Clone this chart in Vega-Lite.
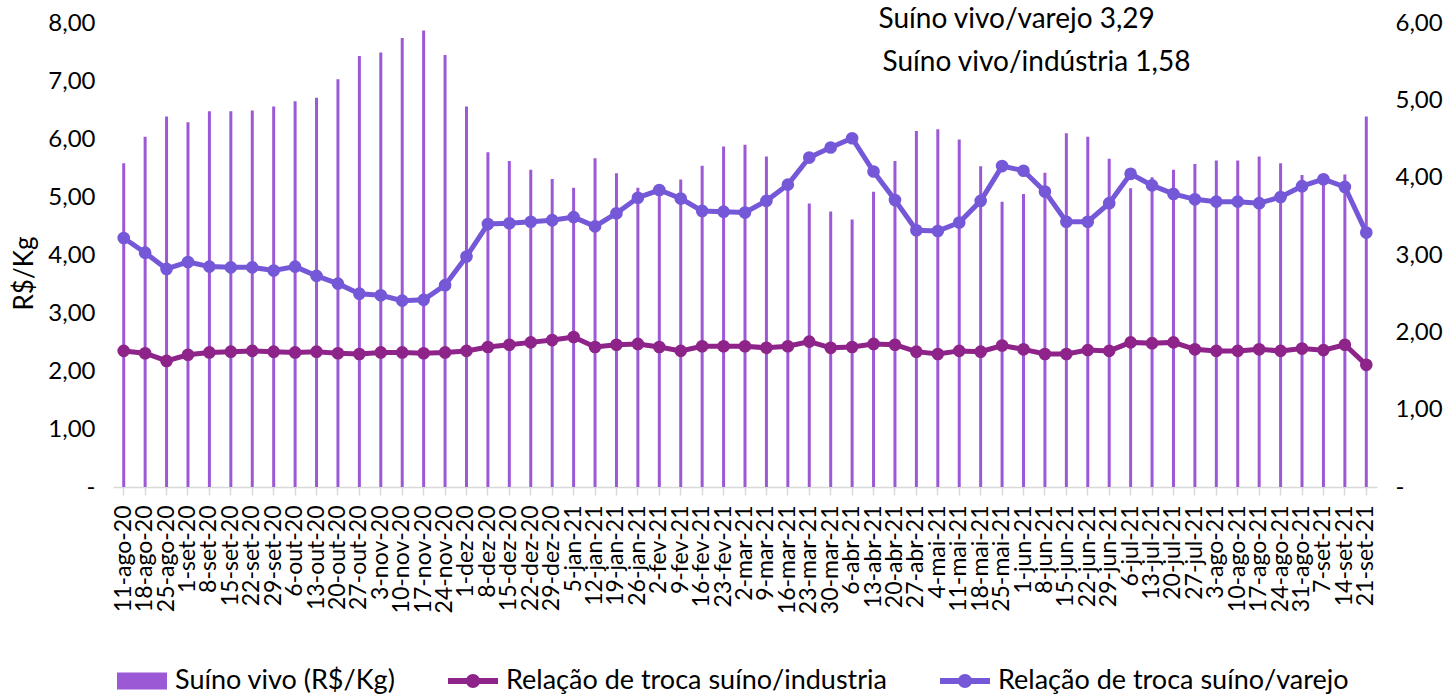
{
  "$schema": "https://vega.github.io/schema/vega-lite/v6.json",
  "width": 1264,
  "height": 464,
  "autosize": {"type": "none"},
  "padding": {"left": 113, "top": 23, "right": 76, "bottom": 210},
  "background": "white",
  "config": {
    "view": {"stroke": null},
    "font": "Lato",
    "axis": {"labelFont": "Lato", "titleFont": "Lato", "labelColor": "#000000", "titleColor": "#000000", "grid": false}
  },
  "data": {"values": [
    {"d": "11-ago-20", "suino": 5.58, "ind": 1.76, "var": 3.22},
    {"d": "18-ago-20", "suino": 6.04, "ind": 1.73, "var": 3.03},
    {"d": "25-ago-20", "suino": 6.39, "ind": 1.63, "var": 2.82},
    {"d": "1-set-20", "suino": 6.29, "ind": 1.71, "var": 2.91},
    {"d": "8-set-20", "suino": 6.48, "ind": 1.74, "var": 2.85},
    {"d": "15-set-20", "suino": 6.48, "ind": 1.75, "var": 2.84},
    {"d": "22-set-20", "suino": 6.49, "ind": 1.76, "var": 2.84},
    {"d": "29-set-20", "suino": 6.56, "ind": 1.75, "var": 2.80},
    {"d": "6-out-20", "suino": 6.65, "ind": 1.74, "var": 2.85},
    {"d": "13-out-20", "suino": 6.71, "ind": 1.75, "var": 2.73},
    {"d": "20-out-20", "suino": 7.03, "ind": 1.73, "var": 2.63},
    {"d": "27-out-20", "suino": 7.43, "ind": 1.72, "var": 2.50},
    {"d": "3-nov-20", "suino": 7.49, "ind": 1.74, "var": 2.48},
    {"d": "10-nov-20", "suino": 7.74, "ind": 1.74, "var": 2.41},
    {"d": "17-nov-20", "suino": 7.87, "ind": 1.73, "var": 2.42},
    {"d": "24-nov-20", "suino": 7.45, "ind": 1.74, "var": 2.61},
    {"d": "1-dez-20", "suino": 6.56, "ind": 1.76, "var": 2.98},
    {"d": "8-dez-20", "suino": 5.77, "ind": 1.81, "var": 3.40},
    {"d": "15-dez-20", "suino": 5.62, "ind": 1.84, "var": 3.41},
    {"d": "22-dez-20", "suino": 5.47, "ind": 1.87, "var": 3.43},
    {"d": "29-dez-20", "suino": 5.31, "ind": 1.90, "var": 3.45},
    {"d": "5-jan-21", "suino": 5.16, "ind": 1.94, "var": 3.49},
    {"d": "12-jan-21", "suino": 5.67, "ind": 1.81, "var": 3.37},
    {"d": "19-jan-21", "suino": 5.41, "ind": 1.84, "var": 3.54},
    {"d": "26-jan-21", "suino": 5.16, "ind": 1.85, "var": 3.74},
    {"d": "2-fev-21", "suino": 5.15, "ind": 1.81, "var": 3.84},
    {"d": "9-fev-21", "suino": 5.30, "ind": 1.76, "var": 3.73},
    {"d": "16-fev-21", "suino": 5.54, "ind": 1.82, "var": 3.57},
    {"d": "23-fev-21", "suino": 5.87, "ind": 1.82, "var": 3.56},
    {"d": "2-mar-21", "suino": 5.90, "ind": 1.82, "var": 3.55},
    {"d": "9-mar-21", "suino": 5.70, "ind": 1.80, "var": 3.70},
    {"d": "16-mar-21", "suino": 5.25, "ind": 1.82, "var": 3.91},
    {"d": "23-mar-21", "suino": 4.89, "ind": 1.88, "var": 4.26},
    {"d": "30-mar-21", "suino": 4.75, "ind": 1.80, "var": 4.39},
    {"d": "6-abr-21", "suino": 4.61, "ind": 1.81, "var": 4.51},
    {"d": "13-abr-21", "suino": 5.09, "ind": 1.85, "var": 4.08},
    {"d": "20-abr-21", "suino": 5.62, "ind": 1.84, "var": 3.71},
    {"d": "27-abr-21", "suino": 6.14, "ind": 1.75, "var": 3.32},
    {"d": "4-mai-21", "suino": 6.17, "ind": 1.72, "var": 3.31},
    {"d": "11-mai-21", "suino": 5.99, "ind": 1.76, "var": 3.42},
    {"d": "18-mai-21", "suino": 5.53, "ind": 1.75, "var": 3.70},
    {"d": "25-mai-21", "suino": 4.92, "ind": 1.83, "var": 4.15},
    {"d": "1-jun-21", "suino": 5.05, "ind": 1.78, "var": 4.09},
    {"d": "8-jun-21", "suino": 5.42, "ind": 1.72, "var": 3.82},
    {"d": "15-jun-21", "suino": 6.10, "ind": 1.72, "var": 3.43},
    {"d": "22-jun-21", "suino": 6.04, "ind": 1.77, "var": 3.43},
    {"d": "29-jun-21", "suino": 5.66, "ind": 1.76, "var": 3.67},
    {"d": "6-jul-21", "suino": 5.15, "ind": 1.87, "var": 4.05},
    {"d": "13-jul-21", "suino": 5.34, "ind": 1.86, "var": 3.90},
    {"d": "20-jul-21", "suino": 5.47, "ind": 1.87, "var": 3.79},
    {"d": "27-jul-21", "suino": 5.57, "ind": 1.78, "var": 3.72},
    {"d": "3-ago-21", "suino": 5.63, "ind": 1.76, "var": 3.69},
    {"d": "10-ago-21", "suino": 5.63, "ind": 1.76, "var": 3.69},
    {"d": "17-ago-21", "suino": 5.70, "ind": 1.78, "var": 3.67},
    {"d": "24-ago-21", "suino": 5.58, "ind": 1.76, "var": 3.75},
    {"d": "31-ago-21", "suino": 5.38, "ind": 1.79, "var": 3.89},
    {"d": "7-set-21", "suino": 5.40, "ind": 1.77, "var": 3.98},
    {"d": "14-set-21", "suino": 5.39, "ind": 1.84, "var": 3.88},
    {"d": "21-set-21", "suino": 6.39, "ind": 1.58, "var": 3.29}
  ]},
  "layer": [
    {
      "layer": [
        {
          "mark": {"type": "bar", "width": 3},
          "encoding": {
            "x": {
              "field": "d", "type": "ordinal", "sort": null,
              "scale": {"paddingInner": 0, "paddingOuter": 0},
              "axis": {
                "title": null, "labelAngle": -90, "labelFontSize": 23, "labelPadding": 10,
                "domainColor": "#d9d9d9", "domainWidth": 1.5, "tickColor": "#d9d9d9", "tickWidth": 1.5, "tickSize": 8,
                "labelOverlap": false
              }
            },
            "y": {
              "field": "suino", "type": "quantitative",
              "scale": {"domain": [0, 8], "nice": false, "zero": true},
              "axis": {
                "title": "R$/Kg", "titleFontSize": 26, "titleFontWeight": "normal", "titleY": 250, "titlePadding": 10,
                "values": [0, 1, 2, 3, 4, 5, 6, 7, 8], "labelFontSize": 24, "labelPadding": 18,
                "domain": false, "ticks": false,
                "labelExpr": "datum.value == 0 ? '-' : replace(format(datum.value, '.2f'), '.', ',')"
              }
            },
            "color": {
              "datum": "Suíno vivo (R$/Kg)",
              "scale": {
                "domain": ["Suíno vivo (R$/Kg)", "Relação de troca suíno/industria", "Relação de troca suíno/varejo"],
                "range": ["#9c59d6", "#8e2389", "#7558d8"]
              },
              "legend": {
                "orient": "none", "legendX": 4, "legendY": 633, "direction": "horizontal", "columns": 3,
                "title": null, "labelFont": "Lato", "labelFontSize": 27, "labelColor": "#000000", "labelLimit": 0,
                "symbolSize": 2500, "columnPadding": 52, "labelOffset": 8, "padding": 0,
                "symbolStrokeWidth": 0, "symbolOpacity": 1,
                "encode": {
                  "symbols": {
                    "update": {
                      "shape": {"signal": "datum.value == 'Suíno vivo (R$/Kg)' ? 'M-1,-0.34H1V0.34H-1Z' : 'M-1,-0.12H1V0.12H-1Z M0.28,0A0.28,0.28 0 1 1 -0.28,0A0.28,0.28 0 1 1 0.28,0Z'"},
                      "fill": {"scale": "color", "field": "value"},
                      "stroke": {"value": "transparent"},
                      "opacity": {"value": 1}
                    }
                  }
                }
              }
            }
          }
        },
        {
          "transform": [{"filter": "datum.d == '13-abr-21'"}],
          "mark": {"type": "text", "align": "left", "baseline": "middle", "dx": 5, "fontSize": 28, "font": "Lato", "color": "#000000"},
          "encoding": {
            "x": {"field": "d", "type": "ordinal", "sort": null},
            "y": {"datum": 8.05, "type": "quantitative"},
            "text": {"value": "Suíno vivo/varejo 3,29"}
          }
        },
        {
          "transform": [{"filter": "datum.d == '13-abr-21'"}],
          "mark": {"type": "text", "align": "left", "baseline": "middle", "dx": 9, "fontSize": 28, "font": "Lato", "color": "#000000"},
          "encoding": {
            "x": {"field": "d", "type": "ordinal", "sort": null},
            "y": {"datum": 7.31, "type": "quantitative"},
            "text": {"value": "Suíno vivo/indústria 1,58"}
          }
        }
      ]
    },
    {
      "layer": [
        {
          "mark": {"type": "line", "strokeWidth": 5, "point": {"size": 160, "filled": true, "opacity": 1}},
          "encoding": {
            "x": {"field": "d", "type": "ordinal", "sort": null},
            "y": {
              "field": "ind", "type": "quantitative",
              "scale": {"domain": [0, 6], "nice": false, "zero": true},
              "axis": {
                "orient": "right", "title": null,
                "values": [0, 1, 2, 3, 4, 5, 6], "labelFontSize": 24, "labelPadding": 18,
                "domain": false, "ticks": false,
                "labelExpr": "datum.value == 0 ? '-' : replace(format(datum.value, '.2f'), '.', ',')"
              }
            },
            "color": {"datum": "Relação de troca suíno/industria"}
          }
        },
        {
          "mark": {"type": "line", "strokeWidth": 5, "point": {"size": 160, "filled": true, "opacity": 1}},
          "encoding": {
            "x": {"field": "d", "type": "ordinal", "sort": null},
            "y": {"field": "var", "type": "quantitative"},
            "color": {"datum": "Relação de troca suíno/varejo"}
          }
        }
      ]
    }
  ],
  "resolve": {"scale": {"y": "independent"}}
}
